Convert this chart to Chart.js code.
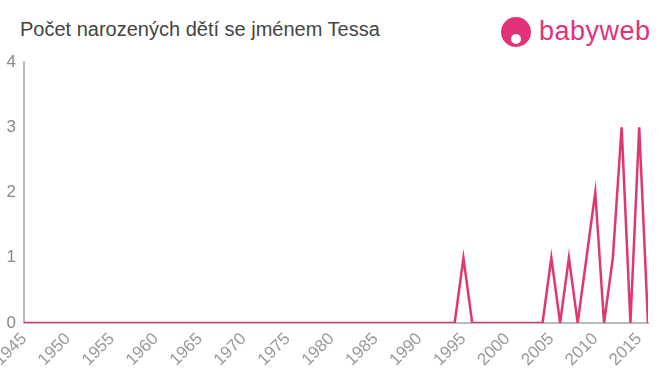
<!DOCTYPE html>
<html>
<head>
<meta charset="utf-8">
<script src="https://cdn.jsdelivr.net/npm/chart.js@4/dist/chart.umd.min.js"></script>
<style>
body{margin:0;background:#fff;font-family:"Liberation Sans",Arial,sans-serif;}
#wrap{position:relative;width:660px;height:375px;overflow:hidden;}
#title{position:absolute;left:20px;top:18px;font-size:20px;color:#444;}
#logo{position:absolute;left:501px;top:15px;height:36px;}
#logo .icon{position:absolute;left:0;top:2px;width:30px;height:30px;border-radius:50%;background:#e2337a;}
#logo .icon i{position:absolute;left:10px;top:17px;width:10px;height:10px;border-radius:50%;background:#fff;}
#logo .txt{position:absolute;left:38px;top:1px;font-size:27px;color:#e2337a;letter-spacing:0.5px;}
#chartBox{position:absolute;left:0;top:0;width:660px;height:375px;}
</style>
</head>
<body>
<div id="wrap">
<div id="title">Počet narozených dětí se jménem Tessa</div>
<div id="logo"><div class="icon"><i></i></div><div class="txt">babyweb</div></div>
<div id="chartBox"><canvas id="birthChart"></canvas></div>
</div>
<script>

// data
const years = [1945,1994,1995,1996,2004,2005,2006,2007,2008,2009,2010,2011,2012,2013,2014,2015,2016];
const counts = [0,0,1,0,0,1,0,1,0,1,2,0,1,3,0,3,0];
const yTicks = [0,1,2,3,4];

const points = years.map((y,i)=>({x:y,y:counts[i]}));

const ctx = document.getElementById("birthChart");

new Chart(ctx,{
type:"line",
data:{
datasets:[{
data:points,
borderColor:"#e0386d",
borderWidth:2.5,
pointRadius:0,
tension:0,
fill:false
}]
},
options:{
responsive:true,
maintainAspectRatio:false,
animation:false,
layout:{padding:{top:62,right:12,left:0,bottom:0}},
plugins:{legend:{display:false},tooltip:{enabled:false}},
scales:{
x:{
type:"linear",
min:1945,
max:2016,
afterFit:(s)=>{s.paddingLeft=0;s.paddingRight=0;s.height=52;},
afterBuildTicks:(s)=>{
let t=[];
for(let v=1945;v<=2015;v+=5) t.push({value:v});
s.ticks=t;
},
grid:{display:false,drawOnChartArea:false,drawTicks:true,tickLength:6,tickColor:"#bbb"},
border:{color:"#bbb",width:2},
ticks:{
color:"#999",
font:{size:17,family:"Liberation Sans, Arial, sans-serif"},
maxRotation:45,
minRotation:45,
autoSkip:false,
padding:0,
callback:(v)=>String(v)
}
},
y:{
min:0,
max:4,
afterFit:(s)=>{s.width=24;},
afterBuildTicks:(s)=>{s.ticks=yTicks.map(v=>({value:v}));},
grid:{display:false,drawOnChartArea:false,drawTicks:true,tickLength:5,tickColor:"#bbb"},
border:{color:"#bbb",width:2},
ticks:{
color:"#888",
font:{size:17,family:"Liberation Sans, Arial, sans-serif"},
padding:3
}
}
}
}
});

</script>
</body>
</html>
